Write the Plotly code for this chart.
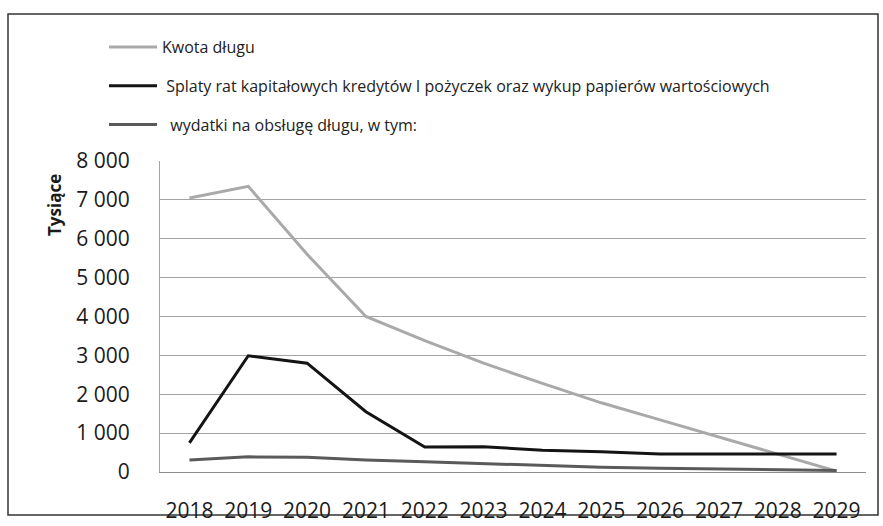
import plotly.graph_objects as go

years = [2018, 2019, 2020, 2021, 2022, 2023, 2024, 2025, 2026, 2027, 2028, 2029]
kwota_dlugu = [7050, 7350, 5600, 4000, 3380, 2800, 2280, 1780, 1340, 900, 450, 20]
splaty = [750, 2990, 2800, 1550, 640, 650, 560, 520, 460, 460, 460, 460]
wydatki = [310, 390, 380, 310, 265, 220, 165, 120, 95, 80, 55, 40]

names = [
    "Kwota długu",
    " Splaty rat kapitałowych kredytów I pożyczek oraz wykup papierów wartościowych",
    "  wydatki na obsługę długu, w tym:",
]
colors = ["#a9a9a9", "#141414", "#5a5a5a"]

W, H = 883, 526
L, R, T, B = 160, 17, 161, 54
pw, ph = W - L - R, H - T - B

def px_x(p):
    return (p - L) / pw

def px_y(p):
    return (H - B - p) / ph

fig = go.Figure()
for i, (nm, vals, col) in enumerate(zip(names, [kwota_dlugu, splaty, wydatki], colors)):
    fig.add_trace(go.Scatter(
        x=years, y=vals, name=nm, mode="lines",
        line=dict(color=col, width=3),
        legendgroup=f"g{i}",
    ))

fig.update_layout(
    template="none",
    width=W, height=H,
    margin=dict(l=L, r=R, t=T, b=B, autoexpand=False),
    paper_bgcolor="white", plot_bgcolor="white",
    separators=", ",
    font=dict(family="Open Sans", color="#1a1a1a"),
    showlegend=True,
    legend=dict(
        xref="container", yref="container",
        x=104 / W, y=1 - 30 / H, xanchor="left", yanchor="top",
        orientation="v", traceorder="grouped",
        font=dict(size=16, color="#222"),
        itemwidth=48, tracegroupgap=15,
        bgcolor="rgba(0,0,0,0)",
    ),
    xaxis=dict(
        type="linear", automargin=False,
        range=[years[0] - 0.5, years[-1] + 0.5],
        tickmode="linear", tick0=years[0], dtick=1, tickformat="d",
        showgrid=False, gridcolor="rgba(0,0,0,0)", zeroline=False,
        showline=True, linecolor="#8c8c8c", linewidth=1,
        ticks="outside", ticklen=20, tickcolor="rgba(0,0,0,0)",
        tickfont=dict(size=21, color="#1a1a1a"),
    ),
    yaxis=dict(
        range=[0, 8000], dtick=1000, tickformat=",.0f", automargin=False,
        showgrid=True, gridcolor="#a3a3a3", gridwidth=1,
        showline=True, linecolor="#a3a3a3", linewidth=1,
        zeroline=False, ticks="",
        tickfont=dict(size=21, color="#1a1a1a"),
        ticklabelstandoff=25,
    ),
    annotations=[dict(
        text="<b>Tysiące</b>", textangle=-90,
        xref="paper", yref="paper", x=px_x(54), y=px_y(205),
        xanchor="center", yanchor="middle", showarrow=False,
        font=dict(size=17, color="#1a1a1a"),
    )],
    shapes=[dict(
        type="rect", xref="paper", yref="paper",
        x0=px_x(8), x1=px_x(878), y0=px_y(515), y1=px_y(14),
        line=dict(color="#333", width=1.5), layer="below",
    )],
)

fig.write_html("out.html", config={"displayModeBar": False},
               post_script="document.body.style.margin='0';")
